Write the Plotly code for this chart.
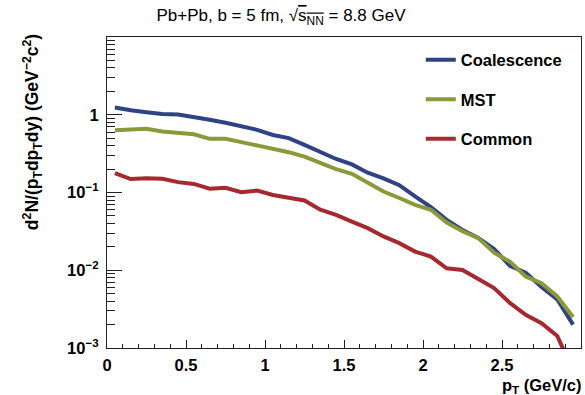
import plotly.graph_objects as go

# transverse-momentum bin centres (GeV/c)
pt = [0.05, 0.15, 0.25, 0.35, 0.45, 0.55, 0.65, 0.75, 0.85, 0.95,
      1.05, 1.15, 1.25, 1.35, 1.45, 1.55, 1.65, 1.75, 1.85, 1.95,
      2.05, 2.15, 2.25, 2.35, 2.45, 2.55, 2.65, 2.75, 2.85, 2.95]

coalescence = [1.24, 1.14, 1.08, 1.02, 1.01, 0.92, 0.86, 0.79, 0.72, 0.64,
               0.55, 0.50, 0.41, 0.33, 0.27, 0.23, 0.18, 0.152, 0.124, 0.089,
               0.065, 0.0445, 0.033, 0.026, 0.0188, 0.0114, 0.0093, 0.0061, 0.0042, 0.0020]

mst = [0.63, 0.65, 0.66, 0.61, 0.59, 0.56, 0.49, 0.49, 0.445, 0.405,
       0.365, 0.33, 0.29, 0.239, 0.20, 0.174, 0.133, 0.103, 0.085, 0.0695,
       0.060, 0.041, 0.0317, 0.0259, 0.0168, 0.0129, 0.0083, 0.0068, 0.0046, 0.0025]

common = [0.178, 0.149, 0.153, 0.150, 0.136, 0.129, 0.112, 0.115, 0.101, 0.106,
          0.093, 0.085, 0.079, 0.060, 0.0516, 0.0423, 0.0348, 0.0272, 0.0223, 0.0174,
          0.0150, 0.0106, 0.0101, 0.0077, 0.0059, 0.0038, 0.00267, 0.00208, 0.00143, 0.0005]

series_names = ["Coalescence", "MST", "Common"]
series_colors = ["#2d4384", "#8a9a38", "#a52a2f"]

y_tickvals = [1e-3, 1e-2, 1e-1, 1]
y_ticktext = ["10<sup>\u22123</sup>", "10<sup>\u22122</sup>", "10<sup>\u22121</sup>", "1"]
x_tickvals = [0, 0.5, 1, 1.5, 2, 2.5, 3]
x_ticktext = ["0", "0.5", "1", "1.5", "2", "2.5", "3"]

FONT = "Liberation Sans, Arial, sans-serif"
LABEL_SIZE = 16.5

fig = go.Figure()
for name, ys, col in zip(series_names, [coalescence, mst, common], series_colors):
    fig.add_trace(go.Scatter(
        x=pt, y=ys, name=name, mode="lines", legendgroup=name,
        line=dict(color=col, width=4),
    ))

# log-scale minor ticks 2..9 in each decade
minor_y = [k * 10.0 ** e for e in range(-3, 1) for k in range(2, 10)]

fig.update_layout(
    width=585, height=395,
    margin=dict(l=107, r=4, t=37, b=47),
    paper_bgcolor="white", plot_bgcolor="white",
    font=dict(family=FONT, color="black"),
    title=dict(
        text="Pb+Pb, b = 5 fm, \u221a<span style='text-decoration:overline'>s<sub>NN</sub></span> = 8.8 GeV",
        x=281 / 585, xanchor="center", y=1 - 15 / 395, yanchor="middle",
        font=dict(size=17, family=FONT),
    ),
    showlegend=True,
    legend=dict(
        x=0.662, y=0.982, xanchor="left", yanchor="top",
        bgcolor="rgba(0,0,0,0)", tracegroupgap=15,
        font=dict(size=LABEL_SIZE, family=FONT, weight="bold"),
    ),
    xaxis=dict(
        range=[0, 3], showgrid=False, zeroline=False,
        showline=True, linecolor="#222", linewidth=1.2, mirror=True,
        ticks="inside", ticklen=8, tickcolor="#222", tickwidth=1,
        tickvals=x_tickvals, ticktext=x_ticktext,
        tickfont=dict(size=LABEL_SIZE, family=FONT, weight="bold"),
        ticklabelstandoff=2,
        minor=dict(ticks="inside", ticklen=4, dtick=0.1, tickcolor="#222", showgrid=False),
    ),
    yaxis=dict(
        type="log", range=[-3, 1], showgrid=False, zeroline=False,
        showline=True, linecolor="#222", linewidth=1.2, mirror=True,
        ticks="inside", ticklen=15, tickcolor="#222", tickwidth=1,
        tickvals=y_tickvals, ticktext=y_ticktext,
        tickfont=dict(size=LABEL_SIZE, family=FONT, weight="bold"),
        ticklabelstandoff=4,
        minor=dict(ticks="inside", ticklen=8, tickvals=minor_y, tickcolor="#222", showgrid=False),
    ),
)

# axis titles, right/top aligned
fig.add_annotation(
    text="p<sub>T</sub> (GeV/c)", xref="paper", yref="paper",
    x=1.0, y=-0.082, xanchor="right", yanchor="top", showarrow=False, xshift=3,
    font=dict(size=LABEL_SIZE, family=FONT, weight="bold"),
)
fig.add_annotation(
    text="d<sup>2</sup>N/(p<sub>T</sub>dp<sub>T</sub>dy) (GeV<sup>\u22122</sup>c<sup>2</sup>)",
    xref="paper", yref="paper", textangle=-90,
    x=-0.158, y=1.016, xanchor="center", yanchor="top", showarrow=False,
    font=dict(size=17.5, family=FONT, weight="bold"),
)

fig.write_html("out.html")
